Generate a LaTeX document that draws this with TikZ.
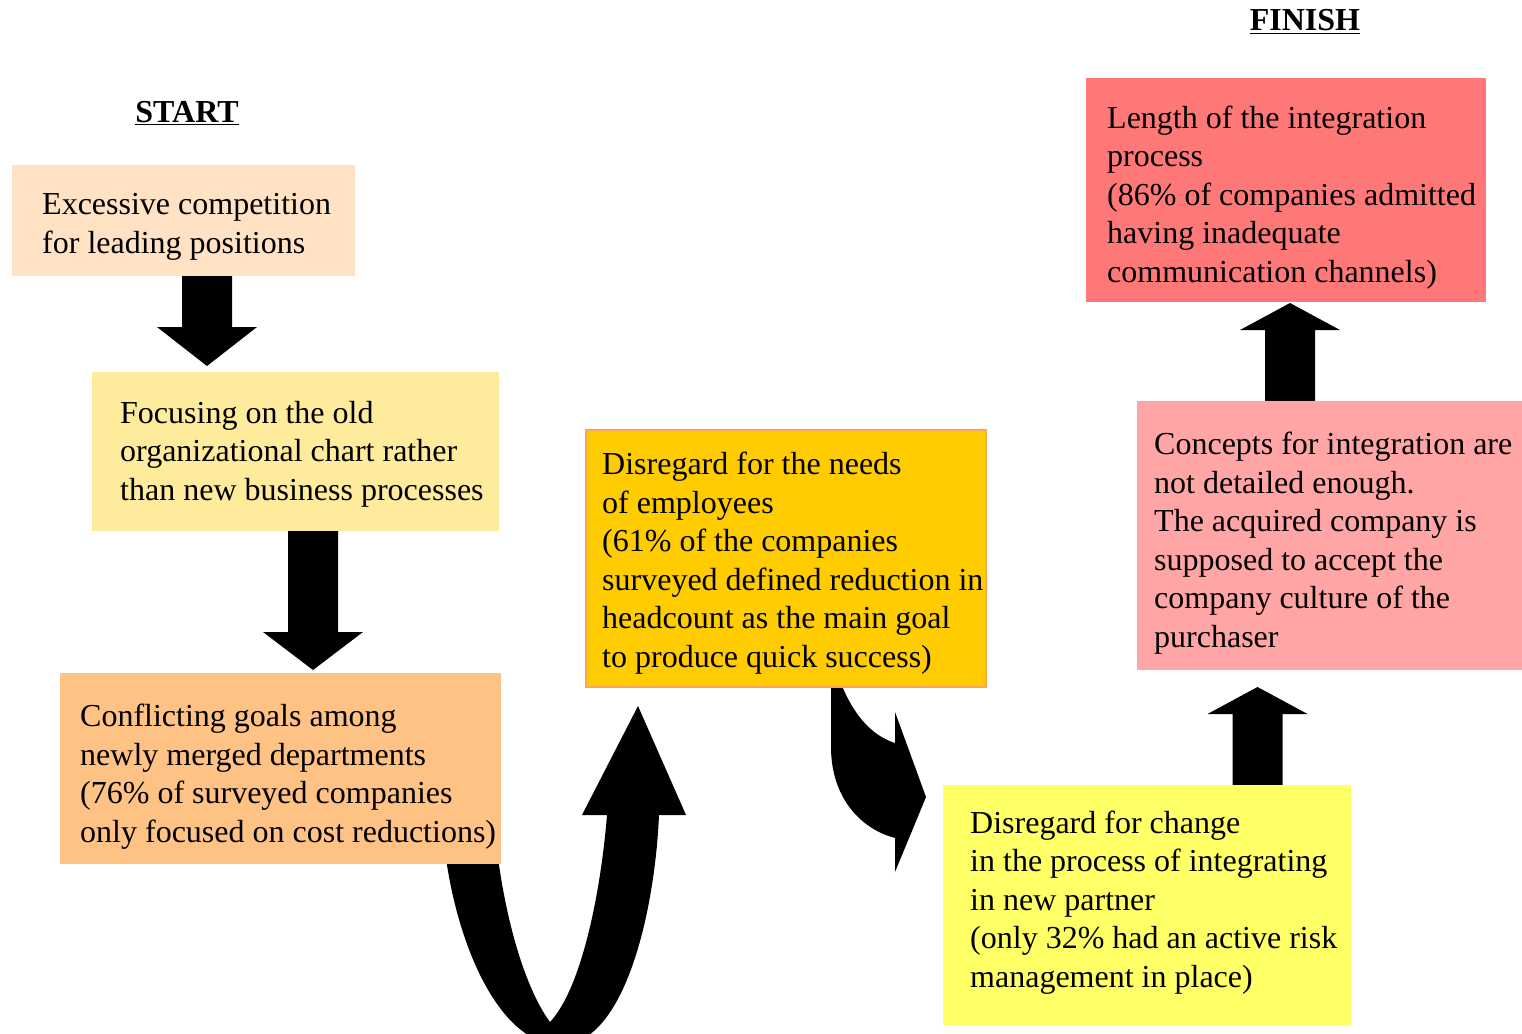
\documentclass[tikz,border=0pt]{standalone}
\usepackage{fontspec}
\setmainfont{Liberation Serif}
\usetikzlibrary{calc}

\definecolor{peach}{HTML}{FFE1C4}
\definecolor{paleyellow}{HTML}{FFEB9C}
\definecolor{apricot}{HTML}{FFC285}
\definecolor{amber}{HTML}{FFCC00}
\definecolor{amberline}{HTML}{FFA54F}
\definecolor{lemon}{HTML}{FFFF66}
\definecolor{rose}{HTML}{FFA5A5}
\definecolor{salmon}{HTML}{FF7878}

% vertical block arrow: x, tail y, head-base y, tip y
\newcommand{\fatvarrow}[4]{%
  \fill[black] (#1-25,#2) -- (#1+25,#2) -- (#1+25,#3) -- (#1+50,#3)
    -- (#1,#4) -- (#1-50,#3) -- (#1-25,#3) -- cycle;}

\begin{document}
\begin{tikzpicture}[x=1pt,y=-1pt,
  box/.style={anchor=north west, draw=none, inner sep=0pt, outer sep=0pt},
  txt/.style={anchor=north west, inner sep=0pt, align=left, yshift=-1.5pt,
    font=\fontsize{32}{38.5}\selectfont},
  heading/.style={anchor=base, inner sep=0pt,
    font=\fontsize{32}{38.5}\selectfont\bfseries}]

\useasboundingbox (0,0) rectangle (1522,1033);
\clip (0,0) rectangle (1522,1033);

% ---- block arrows (drawn first, boxes lie over their ends) ----
\fatvarrow{207}{270}{327}{366}
\fatvarrow{313}{525}{632}{670}
\fatvarrow{1290}{410}{330}{303}
\fatvarrow{1257.5}{792}{714}{687}

% U-turn arrow from the conflicting-goals box up to the employees box
\fill[black] (440,840) -- (447,865)
  .. controls (462,960) and (505,1045) .. (560,1045)
  .. controls (625,1045) and (655,910) .. (659,815)
  -- (686,815) -- (638,706) -- (582,815) -- (607,815)
  .. controls (600,900) and (580,990) .. (550,1022)
  .. controls (530,995) and (510,940) .. (499,865)
  -- (495,840) -- cycle;

% curved arrow from the employees box to the change box
\fill[black] (831,670) -- (831,747)
  .. controls (831,795) and (858,828) .. (895,838)
  -- (895,872) -- (926,797) -- (895,712) -- (895,743)
  .. controls (870,735) and (850,712) .. (836,670) -- cycle;

% ---- boxes ----
\node[box, fill=peach, minimum width=343pt, minimum height=111pt] (b1) at (12,165) {};
\node[box, fill=paleyellow, minimum width=407pt, minimum height=159pt] (b2) at (92,372) {};
\node[box, fill=apricot, minimum width=441pt, minimum height=191pt] (b3) at (60,673) {};
\node[box, fill=amber, draw=amberline, line width=1.5pt, minimum width=400pt, minimum height=257pt] (b4) at (586,430) {};
\node[box, fill=lemon, minimum width=408pt, minimum height=240pt] (b5) at (943,785) {};
\node[box, fill=rose, minimum width=385pt, minimum height=269pt] (b6) at (1137,401) {};
\node[box, fill=salmon, minimum width=400pt, minimum height=224pt] (b7) at (1086,78) {};

% ---- texts ----
\node[heading] (start) at (187,122) {\underline{START}};
\node[heading] (finish) at (1305,31) {\underline{FINISH}};

\node[txt] (t1) at (42,186) {\strut Excessive competition\\for leading positions};
\node[txt] (t2) at (120,394.5) {\strut Focusing on the old\\organizational chart rather\\than new business processes};
\node[txt] (t3) at (80,698) {\strut Conflicting goals among\\newly merged departments\\(76\% of surveyed companies\\only focused on cost reductions)};
\node[txt] (t4) at (602,446) {\strut Disregard for the needs\\of employees\\(61\% of the companies\\surveyed defined reduction in\\headcount as the main goal\\to produce quick success)};
\node[txt] (t5) at (970,804.5) {\strut Disregard for change\\in the process of integrating\\in new partner\\(only 32\% had an active risk\\management in place)};
\node[txt] (t6) at (1154,426) {\strut Concepts for integration are\\not detailed enough.\\The acquired company is\\supposed to accept the\\company culture of the\\purchaser};
\node[txt] (t7) at (1107,99.5) {\strut Length of the integration\\process\\(86\% of companies admitted\\having inadequate\\communication channels)};

\end{tikzpicture}
\end{document}
